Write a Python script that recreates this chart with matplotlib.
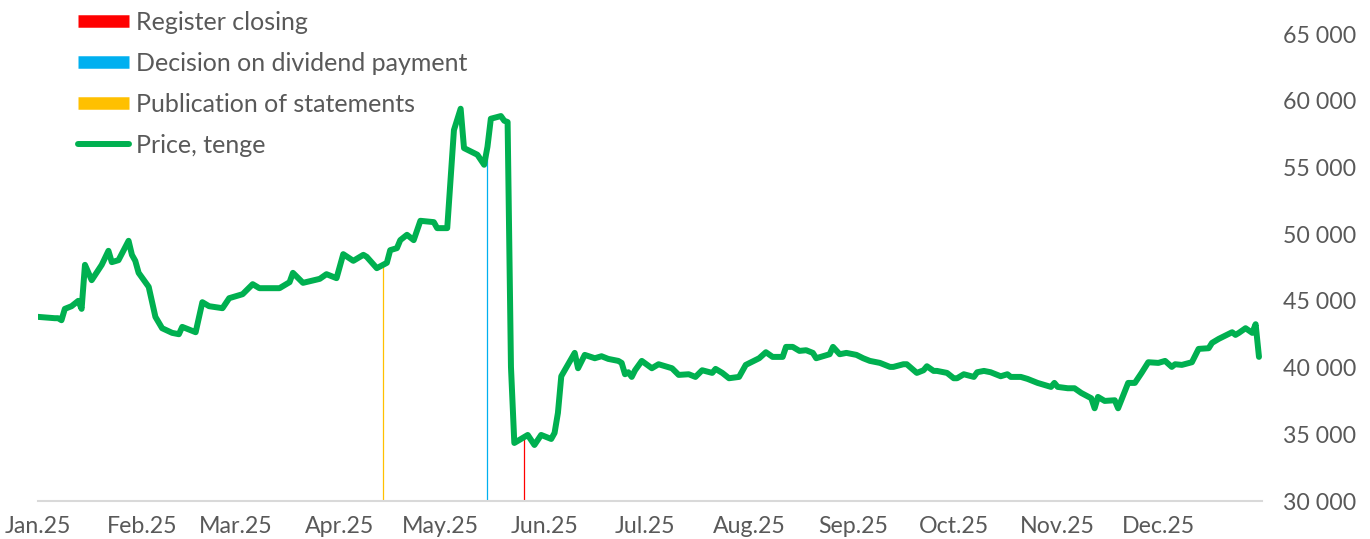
import numpy as np
import pandas as pd
import matplotlib
matplotlib.use("Agg")
import matplotlib.pyplot as plt
import matplotlib.dates as mdates
from matplotlib.lines import Line2D
from matplotlib.ticker import FuncFormatter

# days since 1 Jan 2025 and closing price, tenge
days = [0, 5, 6, 7, 8, 10, 12, 13, 14, 16, 19, 21, 22, 24, 27, 28, 29, 30, 33, 35,
        37, 40, 42, 43, 47, 49, 51, 55, 57, 61, 64, 66, 72, 75, 76, 79, 84, 86, 89, 91,
        94, 97, 98, 101, 104, 105, 107, 108, 110, 112, 114, 118, 119, 122, 124, 126, 127, 131, 133, 134,
        135, 138, 139, 140, 141, 142, 146, 148, 150, 153, 154, 155, 156, 160, 161, 163, 166, 168, 170, 173,
        174, 175, 176, 177, 178, 180, 183, 185, 189, 191, 194, 196, 198, 201, 202, 204, 206, 209, 211, 215,
        217, 219, 222, 223, 225, 227, 229, 231, 232, 234, 236, 237, 239, 241, 244, 246, 248, 251, 252, 254,
        255, 258, 259, 262, 264, 265, 267, 268, 271, 273, 274, 276, 279, 280, 282, 284, 287, 289, 290, 293,
        295, 298, 302, 303, 304, 307, 309, 311, 314, 315, 316, 318, 321, 322, 325, 327, 329, 331, 334, 336,
        338, 339, 341, 344, 346, 349, 350, 352, 356, 357, 358, 360, 362, 363, 364]
price = [43800, 43700, 43700, 43550, 44400, 44600, 45000, 44400, 47700, 46550, 47700, 48750, 47900, 48050, 49500, 48450, 48000, 47100, 46050, 43800,
         42950, 42600, 42500, 43050, 42650, 44900, 44600, 44450, 45200, 45500, 46250, 45950, 45950, 46400, 47100, 46350, 46650, 47000, 46700, 48500,
         48000, 48450, 48300, 47450, 47850, 48800, 48950, 49550, 49950, 49550, 51000, 50900, 50450, 50450, 57800, 59400, 56450, 55950, 55200, 56550,
         58650, 58850, 58500, 58400, 40050, 34350, 34950, 34200, 34950, 34650, 35100, 36600, 39350, 41100, 39950, 40950, 40700, 40850, 40650, 40500,
         40350, 39500, 39650, 39300, 39800, 40500, 39950, 40250, 39950, 39450, 39500, 39300, 39800, 39600, 39900, 39600, 39200, 39300, 40200, 40700,
         41150, 40800, 40800, 41550, 41550, 41250, 41300, 41100, 40700, 40850, 41000, 41550, 41000, 41100, 40950, 40700, 40500, 40350, 40250, 40050,
         40050, 40250, 40250, 39600, 39800, 40100, 39750, 39750, 39600, 39200, 39200, 39500, 39300, 39650, 39750, 39650, 39350, 39500, 39300, 39300,
         39150, 38850, 38550, 38850, 38550, 38450, 38450, 38100, 37700, 36950, 37800, 37500, 37550, 36950, 38850, 38850, 39600, 40400, 40350, 40500,
         40050, 40250, 40200, 40400, 41400, 41450, 41850, 42150, 42650, 42450, 42600, 42950, 42600, 43250, 40800]

event_dates = ["2025-04-14", "2025-05-15", "2025-05-26"]
event_names = ["Publication of statements", "Decision on dividend payment", "Register closing"]
event_colors = ["#FFC000", "#00B0F0", "#FF0000"]

start = pd.Timestamp("2025-01-01")
dates = start + pd.to_timedelta(days, unit="D")

plt.rcParams["font.family"] = ["Lato", "DejaVu Sans"]
grey = "#595959"

fig = plt.figure(figsize=(13.7, 5.39), dpi=100)
ax = fig.add_axes([38 / 1370, 1 - 501 / 539, 1224 / 1370, 467 / 539])

ax.plot(dates, price, color="#00B050", lw=4.3, solid_joinstyle="round", solid_capstyle="round", zorder=3)

for d, c in zip(event_dates, event_colors):
    t = pd.Timestamp(d)
    top = np.interp((t - start).days, days, price)
    ax.vlines(t, 30000, top, color=c, lw=0.9, zorder=2)

ax.set_xlim(start, start + pd.Timedelta(days=364.9))
ax.set_ylim(30000, 65000)
ax.set_yticks(np.arange(30000, 65001, 5000))
ax.yaxis.set_major_formatter(FuncFormatter(lambda v, p: f"{int(v):,}".replace(",", " ")))
ax.yaxis.tick_right()
ax.xaxis.set_major_locator(mdates.MonthLocator())
ax.xaxis.set_major_formatter(mdates.DateFormatter("%b.%y"))
ax.tick_params(axis="y", length=0, pad=15, labelsize=16.7, labelcolor=grey)
ax.tick_params(axis="x", length=0, pad=11, labelsize=16.7, labelcolor=grey)

for s in ["top", "left", "right"]:
    ax.spines[s].set_visible(False)
ax.spines["bottom"].set_color("#D9D9D9")
ax.spines["bottom"].set_linewidth(1.5)

handles = [
    Line2D([], [], color="#FF0000", lw=9, solid_capstyle="butt"),
    Line2D([], [], color="#00B0F0", lw=9, solid_capstyle="butt"),
    Line2D([], [], color="#FFC000", lw=9, solid_capstyle="butt"),
    Line2D([], [], color="#00B050", lw=4.3, solid_capstyle="round"),
]
labels = ["Register closing", "Decision on dividend payment", "Publication of statements", "Price, tenge"]
leg = fig.legend(handles, labels, loc="upper left", bbox_to_anchor=(78 / 1370, 1 - 11 / 539),
                 frameon=False, fontsize=18, handlelength=2.05, handletextpad=0.25,
                 labelspacing=0.72, borderpad=0, borderaxespad=0)
for t in leg.get_texts():
    t.set_color(grey)

fig.savefig("out.png", dpi=100)
